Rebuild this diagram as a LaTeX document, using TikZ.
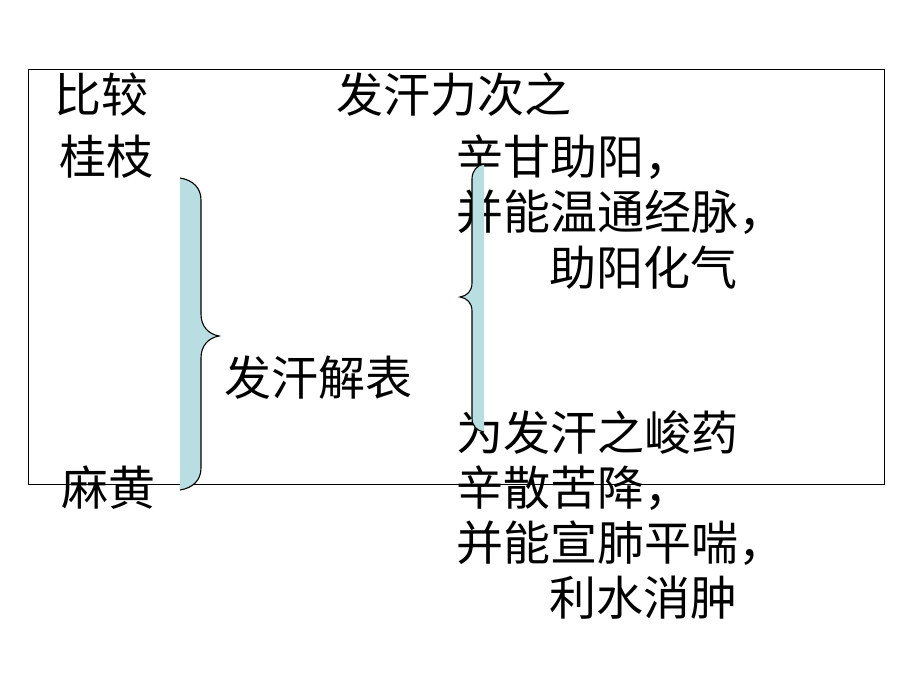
\documentclass[tikz,border=0pt]{standalone}
\usepackage{fontspec}
\setmainfont{Noto Sans CJK SC}
\usepackage{tikz}
\usetikzlibrary{positioning}
\definecolor{bracefill}{RGB}{185,222,226}

\begin{document}
\begin{tikzpicture}[x=1pt,y=-1pt,
    txt/.style={anchor=west, inner sep=0pt, font=\fontsize{47}{47}\selectfont},
    bracefillstyle/.style={fill=bracefill, draw=none},
    braceline/.style={draw=black, line width=1.1pt}]
    \useasboundingbox (0,0) rectangle (920,690);

    % left column
    \node [txt] (cmp) at (54,95) {比较};
    \node [txt] (gz) at (59,157) {桂枝};
    \node [txt] (mh) at (61,488) {麻黄};
    \node [txt] (fbj) at (224,378) {发汗解表};

    % right column
    \node [txt] (head) at (336,95) {发汗力次之};
    \node [txt] (g1) at (456,157) {辛甘助阳，};
    \node [txt] (g2) at (456,212) {并能温通经脉，};
    \node [txt] (g3) at (549,268) {助阳化气};
    \node [txt] (m0) at (456,433) {为发汗之峻药};
    \node [txt] (m1) at (456,488) {辛散苦降，};
    \node [txt] (m2) at (456,543) {并能宣肺平喘，};
    \node [txt] (m3) at (549,598) {利水消肿};

    \draw [line width=1pt] (28,70) rectangle (884,484);

    % big brace
    \path [bracefillstyle] (180,178) .. controls (193,180) and (201,188) .. (201,200)
      -- (201,314) .. controls (201,326) and (208,334) .. (219,336)
      .. controls (208,338) and (201,346) .. (201,358)
      -- (201,468) .. controls (201,480) and (193,488) .. (180,490) -- cycle;
    \draw [braceline] (180,178) .. controls (193,180) and (201,188) .. (201,200)
      -- (201,314) .. controls (201,326) and (208,334) .. (219,336)
      .. controls (208,338) and (201,346) .. (201,358)
      -- (201,468) .. controls (201,480) and (193,488) .. (180,490);

    % small brace
    \path [bracefillstyle] (484,164) .. controls (477,165) and (472,171) .. (472,179)
      -- (472,283) .. controls (472,291) and (467,296) .. (460,297)
      .. controls (467,298) and (472,303) .. (472,311)
      -- (472,418) .. controls (472,426) and (477,431) .. (484,432) -- cycle;
    \draw [braceline] (484,164) .. controls (477,165) and (472,171) .. (472,179)
      -- (472,283) .. controls (472,291) and (467,296) .. (460,297)
      .. controls (467,298) and (472,303) .. (472,311)
      -- (472,418) .. controls (472,426) and (477,431) .. (484,432);
\end{tikzpicture}
\end{document}
